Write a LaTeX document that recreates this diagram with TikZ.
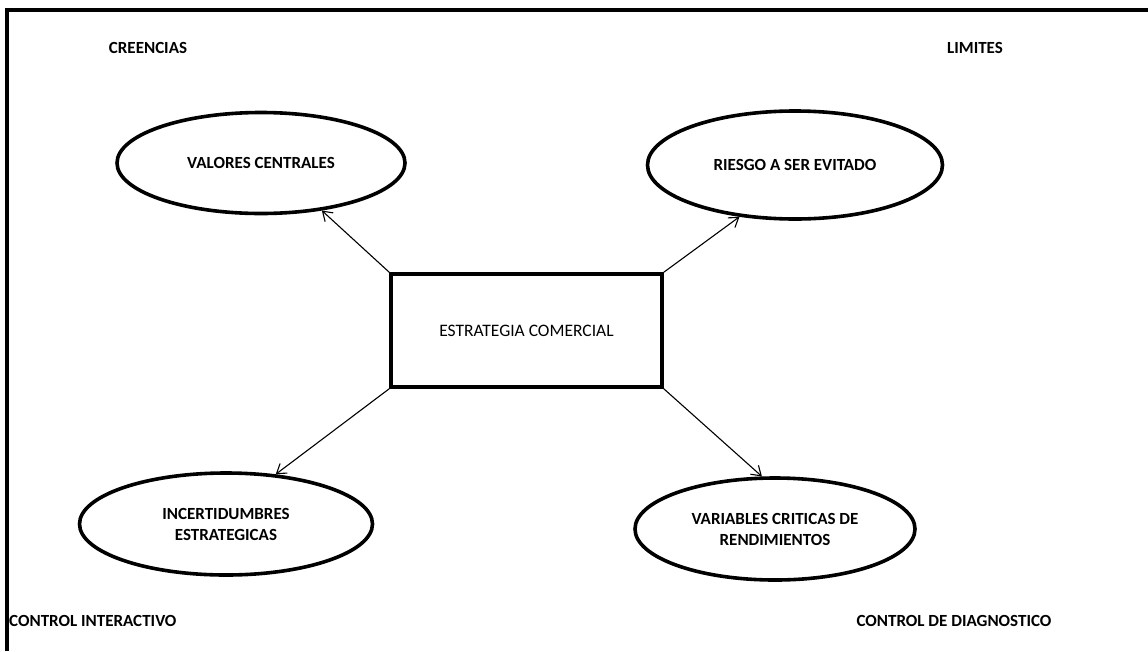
\documentclass[tikz,border=0pt]{standalone}
\usepackage{fontspec}
\setmainfont{Carlito}
\usetikzlibrary{shapes.geometric,arrows.meta}
\begin{document}
\begin{tikzpicture}[x=1pt,y=-1pt,
  lbl/.style={font=\fontsize{17}{21}\selectfont\bfseries,inner sep=0pt},
  oval/.style={ellipse,draw,line width=3.6pt,inner sep=0pt,align=center,
    font=\fontsize{17}{21}\selectfont\bfseries},
  box/.style={rectangle,draw,line width=3.4pt,inner sep=0pt,
    font=\fontsize{17.5}{21}\selectfont},
  arr/.style={line width=1.1pt,-{Straight Barb[length=9pt,width=12pt,line width=1.1pt]}}]
\useasboundingbox (0,0) rectangle (1148,651);
% open frame: top and left edges
\draw[line width=3.4pt] (7,651) -- (7,10) -- (1148,10);
% corner labels
\node[lbl] (cre) at (148,48) {CREENCIAS};
\node[lbl] (lim) at (975,48) {LIMITES};
\node[lbl,anchor=west] (cint) at (9,621) {CONTROL INTERACTIVO};
\node[lbl] (cdia) at (954,621) {CONTROL DE DIAGNOSTICO};
% central strategy box
\node[box,minimum width=271pt,minimum height=113pt] (est) at (526.5,330.5) {ESTRATEGIA COMERCIAL};
% four levers
\node[oval,minimum width=288pt,minimum height=101pt] (val) at (261,163) {VALORES CENTRALES};
\node[oval,minimum width=295pt,minimum height=108pt] (rie) at (795,165) {RIESGO A SER EVITADO};
\node[oval,minimum width=293pt,minimum height=102pt] (inc) at (226,524) {INCERTIDUMBRES\\ESTRATEGICAS};
\node[oval,minimum width=280pt,minimum height=102pt] (var) at (775,529) {VARIABLES CRITICAS DE\\RENDIMIENTOS};
% connectors
\draw[arr] (est.north west) -- (val.-38);
\draw[arr] (est.north east) -- (rie.-137);
\draw[arr] (est.south west) -- (inc.45);
\draw[arr] (est.south east) -- (var.104);
\end{tikzpicture}
\end{document}
